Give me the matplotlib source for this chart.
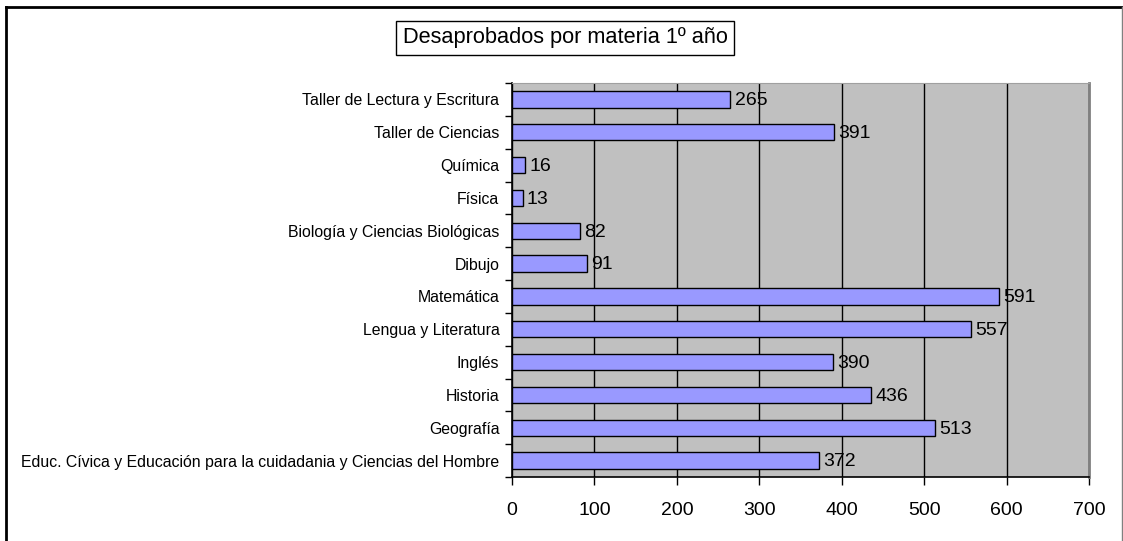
import matplotlib
matplotlib.use("Agg")
import matplotlib.pyplot as plt
from matplotlib.lines import Line2D

categories = [
    "Educ. Cívica y Educación para la cuidadania y Ciencias del Hombre",
    "Geografía",
    "Historia",
    "Inglés",
    "Lengua y Literatura",
    "Matemática",
    "Dibujo",
    "Biología y Ciencias Biológicas",
    "Física",
    "Química",
    "Taller de Ciencias",
    "Taller de Lectura y Escritura",
]
values = [372, 513, 436, 390, 557, 591, 91, 82, 13, 16, 391, 265]
xticks = [0, 100, 200, 300, 400, 500, 600, 700]
title = "Desaprobados por materia 1º año"

plt.rcParams['font.family'] = ['Liberation Sans', 'DejaVu Sans']

W, H = 1123, 541
fig = plt.figure(figsize=(W / 100, H / 100), dpi=100)
ax = fig.add_axes([512/W, 1 - 477/H, (1089 - 512)/W, (477 - 83)/H])
ax.set_facecolor('#C0C0C0')

ypos = list(range(len(categories)))
ax.barh(ypos, values, height=0.5, color='#9999FF', edgecolor='black', linewidth=1.0, zorder=3)
for y, v in zip(ypos, values):
    ax.annotate(str(v), (v, y), xytext=(3, -1), textcoords='offset points',
                va='center', ha='left', fontsize=14, zorder=4)

ax.set_xlim(0, 700)
ax.set_ylim(-0.5, len(categories) - 0.5)
ax.set_xticks(xticks)
ax.set_xticklabels([str(t) for t in xticks], fontsize=14)
ax.xaxis.grid(True, color='black', linewidth=1.0, zorder=1)
ax.set_axisbelow(True)

ax.set_yticks(ypos)
ax.set_yticklabels(categories, fontsize=11.4)
ax.tick_params(axis='y', which='major', length=0, pad=9)
ax.set_yticks([i - 0.5 for i in range(len(categories) + 1)], minor=True)
ax.tick_params(axis='y', which='minor', length=5, width=1, direction='out')
ax.tick_params(axis='x', which='major', length=6, width=1, direction='out', pad=12)

for side in ['left', 'bottom']:
    ax.spines[side].set_color('black')
    ax.spines[side].set_linewidth(1.2)
ax.spines['top'].set_color('#A0A0A0')
ax.spines['right'].set_color('#808080')
ax.spines['right'].set_linewidth(2)

fig.text(565/W, 1 - 38/H, title, ha='center', va='center', fontsize=15.7,
         bbox=dict(boxstyle='square,pad=0.3', facecolor='white', edgecolor='black', linewidth=1))

# outer chart border: black on top and left, thin gray on right
fig.lines.append(Line2D([6/W, 6/W], [0, 1 - 7/H], transform=fig.transFigure, color='black', linewidth=2))
fig.lines.append(Line2D([6/W, 1], [1 - 7/H, 1 - 7/H], transform=fig.transFigure, color='black', linewidth=2))
fig.lines.append(Line2D([1 - 1.5/W, 1 - 1.5/W], [0, 1 - 7/H], transform=fig.transFigure, color='#808080', linewidth=1))

fig.savefig('out.png', dpi=100)
